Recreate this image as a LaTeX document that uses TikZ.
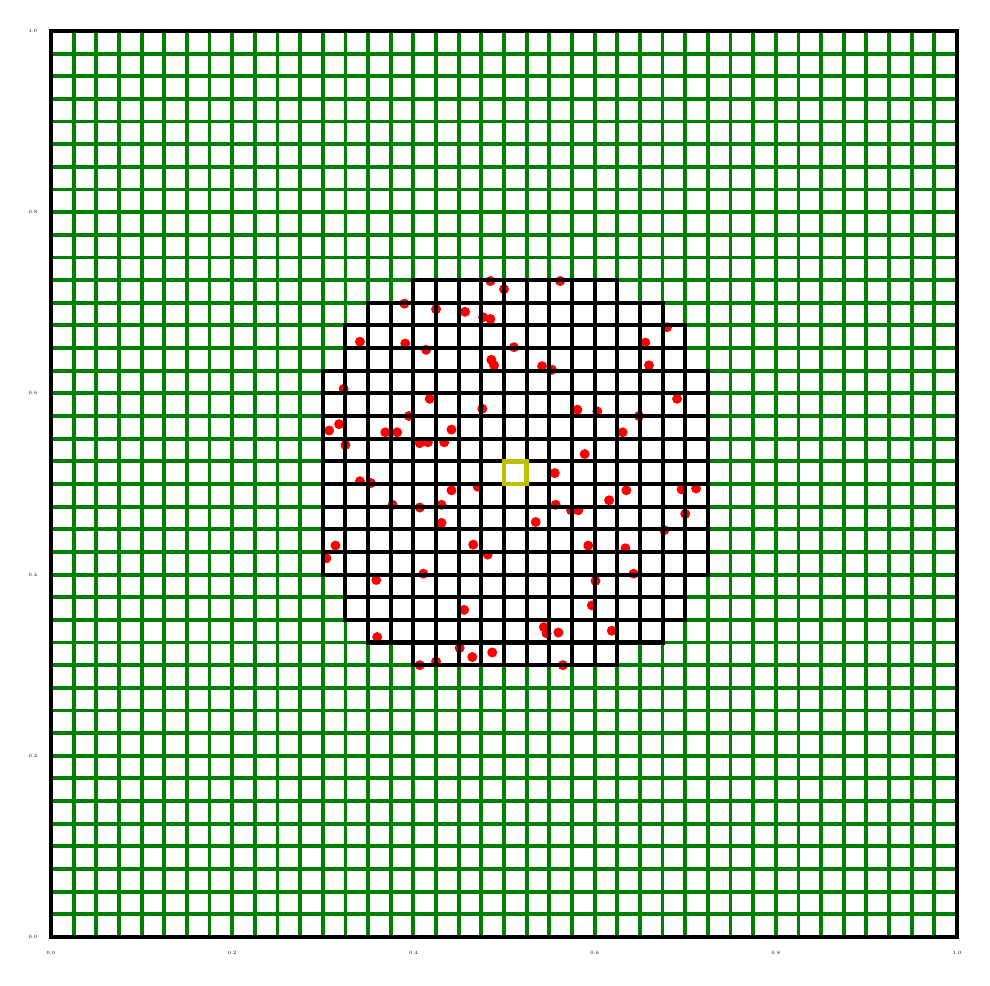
\documentclass[tikz,border=0pt]{standalone}
\usepackage{tikz}
\usepackage{xcolor}
\definecolor{gridgreen}{RGB}{0,128,0}
\definecolor{hitred}{RGB}{255,0,0}
\definecolor{cellyellow}{RGB}{191,191,0}

\begin{document}
\begin{tikzpicture}[x=9.06cm, y=9.06cm,
  gline/.style={draw=gridgreen, line width=1.1pt},
  bcell/.style={draw=black, line width=1.15pt},
  hit/.style={fill=hitred},
  tick/.style={font=\fontsize{1.4}{1.7}\selectfont, inner sep=0pt}]

\useasboundingbox (-0.0563,-0.0541) rectangle (1.0364,1.0342);

% --- green background grid (40 x 40 cells) ---
\foreach \i in {1,...,39}{
  \draw[gline] (\i/40,0) -- (\i/40,1);
  \draw[gline] (0,\i/40) -- (1,\i/40);
}

% --- red points (behind the black cells) ---
\foreach \px/\py in {
  0.485/0.724, 0.500/0.715, 0.390/0.699, 0.425/0.693, 0.457/0.690, 0.477/0.684,
  0.485/0.682, 0.341/0.657, 0.391/0.655, 0.414/0.648, 0.511/0.651, 0.486/0.637,
  0.489/0.631, 0.323/0.605, 0.418/0.594, 0.476/0.583, 0.395/0.575, 0.318/0.566,
  0.307/0.559, 0.369/0.557, 0.382/0.557, 0.442/0.560, 0.325/0.543, 0.407/0.545,
  0.416/0.546, 0.434/0.546,
  0.562/0.724, 0.680/0.673, 0.656/0.656, 0.660/0.631, 0.542/0.630, 0.553/0.626,
  0.691/0.594, 0.581/0.582, 0.603/0.580, 0.649/0.575, 0.631/0.557, 0.589/0.533,
  0.556/0.512,
  0.341/0.503, 0.353/0.501, 0.442/0.493, 0.471/0.497, 0.377/0.477, 0.407/0.474,
  0.431/0.477, 0.431/0.457, 0.314/0.432, 0.466/0.433, 0.482/0.422, 0.304/0.418,
  0.359/0.394, 0.411/0.401, 0.456/0.361, 0.360/0.331, 0.451/0.319, 0.465/0.309,
  0.487/0.314, 0.407/0.300, 0.425/0.304,
  0.635/0.493, 0.696/0.494, 0.712/0.495, 0.616/0.482, 0.557/0.477, 0.574/0.471,
  0.582/0.471, 0.700/0.467, 0.535/0.458, 0.677/0.449, 0.593/0.432, 0.634/0.429,
  0.643/0.401, 0.601/0.393, 0.597/0.366, 0.544/0.342, 0.547/0.335, 0.560/0.336,
  0.619/0.338, 0.565/0.300}{
  \fill[hit] (\px,\py) circle[radius=0.05cm];
}

% --- black cells: row index / half width around column 20 ---
\foreach \j/\w in {12/4,13/6,14/7,15/7,16/8,17/8,18/8,19/8,20/8,
                   21/8,22/8,23/8,24/8,25/7,26/7,27/6,28/4}{
  \pgfmathtruncatemacro{\ca}{20-\w}
  \pgfmathtruncatemacro{\cb}{20+\w}
  \foreach \c in {\ca,...,\cb}{
    \draw[bcell] (\c/40,\j/40) rectangle ({(\c+1)/40},{(\j+1)/40});
  }
}

% --- frame and the selected cell ---
\draw[black, line width=1.1pt] (0,0) rectangle (1,1);
\draw[draw=cellyellow, line width=1.3pt] (0.5,0.5) rectangle (0.525,0.525);

% --- tick labels ---
\foreach \t/\lbl in {0/0.0, 0.2/0.2, 0.4/0.4, 0.6/0.6, 0.8/0.8, 1/1.0}{
  \node[tick] (xt\lbl) at (\t,-0.0177) {\lbl};
  \node[tick] (yt\lbl) at (-0.0199,\t) {\lbl};
}
\end{tikzpicture}
\end{document}
